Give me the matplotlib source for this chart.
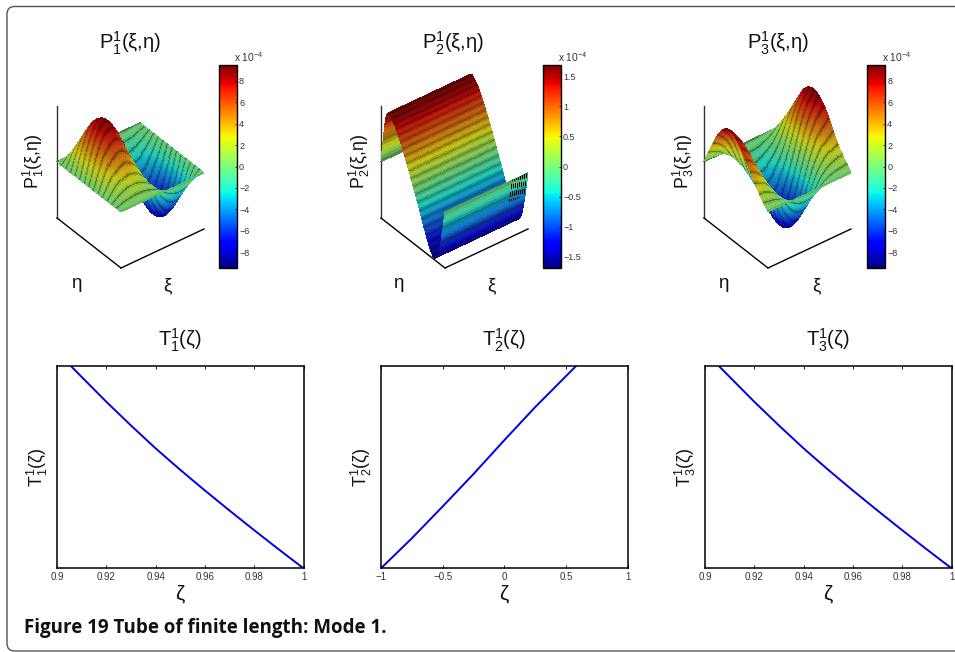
import numpy as np
import matplotlib
matplotlib.use("Agg")
import matplotlib.pyplot as plt
from matplotlib import cm
from matplotlib.colors import Normalize
from matplotlib.patches import FancyBboxPatch
from mpl_toolkits.mplot3d import proj3d

W, H = 955, 652

plt.rcParams["font.family"] = ["Liberation Sans", "DejaVu Sans"]
plt.rcParams["mathtext.fontset"] = "custom"
plt.rcParams["mathtext.rm"] = "Liberation Sans"
plt.rcParams["mathtext.it"] = "Liberation Sans:italic"
plt.rcParams["mathtext.bf"] = "Liberation Sans:bold"

# surface heights in units of 1e-4, rows run from the back edge to the front edge
p1_table = [
    [0, 0, 0, 0, 0, 0, 0, 0, 0],
    [0, 3.0, 4.2, 3.0, 0, -1.2, -1.7, -1.2, 0],
    [0, 5.9, 8.2, 5.9, 0, -2.8, -3.9, -2.8, 0],
    [0, 7.1, 9.9, 7.1, 0, -4.8, -6.8, -4.8, 0],
    [0, 6.6, 9.2, 6.6, 0, -6.6, -9.2, -6.6, 0],
    [0, 4.8, 6.8, 4.8, 0, -7.1, -9.9, -7.1, 0],
    [0, 2.8, 3.9, 2.8, 0, -5.9, -8.2, -5.9, 0],
    [0, 1.2, 1.7, 1.2, 0, -3.0, -4.2, -3.0, 0],
    [0, 0, 0, 0, 0, 0, 0, 0, 0],
]
p2_table = [
    [0.0, 0.0],
    [1.72, 1.72],
    [1.58, 1.58],
    [1.32, 1.32],
    [0.93, 0.93],
    [0.51, 0.51],
    [0.05, 0.05],
    [-0.42, -0.42],
    [-0.93, -0.93],
    [-1.39, -1.39],
    [-1.72, -1.72],
    [-1.35, -1.35],
    [0.0, 0.0],
]
p3_table = [
    [0, 0, 0, 0, 0, 0, 0, 0, 0],
    [3.9, 3.0, 0, -1.2, -1.7, -1.2, 0, 3.0, 4.2],
    [7.4, 5.7, 0, -2.8, -3.9, -2.8, 0, 5.7, 8.0],
    [9.0, 6.9, 0, -4.8, -6.8, -4.8, 0, 6.9, 9.4],
    [8.4, 6.4, 0, -6.6, -9.2, -6.6, 0, 6.4, 9.0],
    [6.4, 4.8, 0, -7.2, -10.2, -7.2, 0, 4.8, 7.2],
    [3.9, 2.8, 0, -5.9, -8.4, -5.9, 0, 2.8, 3.9],
    [1.7, 1.2, 0, -3.0, -4.2, -3.0, 0, 1.2, 1.7],
    [0, 0, 0, 0, 0, 0, 0, 0, 0],
]
p_limits = [9.45, 1.69, 9.45]
cbar_ticks = [
    [-8, -6, -4, -2, 0, 2, 4, 6, 8],
    [-1.5, -1, -0.5, 0, 0.5, 1, 1.5],
    [-8, -6, -4, -2, 0, 2, 4, 6, 8],
]
cbar_labels = [
    ["\u22128", "\u22126", "\u22124", "\u22122", "0", "2", "4", "6", "8"],
    ["\u22121.5", "\u22121", "\u22120.5", "0", "0.5", "1", "1.5"],
    ["\u22128", "\u22126", "\u22124", "\u22122", "0", "2", "4", "6", "8"],
]
mesh_lines = [14, 30, 14]
line_shades = [
    [0.62, 0.9, 1.0, 1.0, 1.0, 0.9],
    [0.68, 0.82, 0.95, 1.0, 0.95, 0.82],
    [0.62, 0.9, 1.0, 1.0, 1.0, 0.9],
]

t1_zeta = [0.9055, 0.92, 0.93, 0.94, 0.95, 0.96, 0.97, 0.98, 0.99, 1.0]
t1_vals = [1.0, 0.822, 0.705, 0.592, 0.486, 0.384, 0.285, 0.188, 0.093, 0.0]
t2_zeta = [-1.0, -0.75, -0.5, -0.25, 0.0, 0.25, 0.5, 0.585]
t2_vals = [0.0, 0.148, 0.305, 0.465, 0.632, 0.795, 0.948, 1.0]
t3_zeta = [0.9055, 0.92, 0.93, 0.94, 0.95, 0.96, 0.97, 0.98, 0.99, 1.0]
t3_vals = [1.0, 0.822, 0.705, 0.592, 0.486, 0.384, 0.285, 0.188, 0.093, 0.0]
t_xlims = [(0.9, 1.0), (-1, 1), (0.9, 1.0)]
t_ticks = [
    [0.9, 0.92, 0.94, 0.96, 0.98, 1],
    [-1, -0.5, 0, 0.5, 1],
    [0.9, 0.92, 0.94, 0.96, 0.98, 1],
]
t_ticklabels = [
    ["0.9", "0.92", "0.94", "0.96", "0.98", "1"],
    ["\u22121", "\u22120.5", "0", "0.5", "1"],
    ["0.9", "0.92", "0.94", "0.96", "0.98", "1"],
]

# pixel layout
corner_x = [121, 445, 768]
corner_y = 268
cbar_left = [218.5, 542.5, 866.7]
title_x = [130, 453, 778]
ylabel_x = [33, 359, 683]
eta_x = [77, 399, 724]
xi_x = [168, 492, 817]
low_left = [57, 381, 705]
low_w = 246.5


def fx(x):
    return x / W


def fy(y):
    return 1 - y / H


def upsample(table, nrows, ncols):
    table = np.array(table, dtype=float)
    t_old = np.linspace(0, 1, table.shape[0])
    x_old = np.linspace(0, 1, table.shape[1])
    t_new = np.linspace(0, 1, nrows)
    x_new = np.linspace(0, 1, ncols)
    z = np.array([np.interp(x_new, x_old, row) for row in table])
    z = np.array([np.interp(t_new, t_old, z[:, j]) for j in range(ncols)]).T
    if table.shape[1] == 2:
        rt, rx = nrows // 36, 1
    else:
        rt, rx = nrows // 20, ncols // 20
    kt = np.ones(2 * rt + 1) / (2 * rt + 1)
    kx = np.ones(2 * rx + 1) / (2 * rx + 1)
    for _ in range(2):
        p = np.pad(z, ((rt, rt), (rx, rx)), mode="reflect", reflect_type="odd")
        p = np.apply_along_axis(lambda v: np.convolve(v, kt, mode="valid"), 0, p)
        z = np.apply_along_axis(lambda v: np.convolve(v, kx, mode="valid"), 1, p)
    return z


def corner_px(ax, x, y, z):
    px, py, _ = proj3d.proj_transform(x, y, z, ax.get_proj())
    return ax.transData.transform((px, py))


def add_surface(fig, idx, table):
    lim = p_limits[idx]
    size = 340
    x0 = corner_x[idx] - size / 2
    y0 = 170 - size / 2
    ax = fig.add_axes([fx(x0), fy(y0 + size), size / W, size / H], projection="3d", proj_type="ortho")
    ax.patch.set_alpha(0)
    ax.set_axis_off()
    ax.set_xlim(0, 1)
    ax.set_ylim(0, 1)
    ax.set_zlim(-lim, lim)
    ax.view_init(elev=37.3, azim=-127.8)
    ax.computed_zorder = False
    ax.set_box_aspect((105, 104.5, 141), zoom=1.0)
    ax.apply_aspect()
    # fit the box to the pixels of the reference
    a = corner_px(ax, 0, 0, -lim)
    b = corner_px(ax, 1, 0, -lim)
    zoom = 83 / (b[0] - a[0])
    ax.set_box_aspect((105, 104.5, 141), zoom=zoom)
    a = corner_px(ax, 0, 0, -lim)
    dx = corner_x[idx] - a[0]
    dy = (H - corner_y) - a[1]
    pos = ax.get_position()
    ax.set_position([pos.x0 + dx / W, pos.y0 + dy / H, pos.width, pos.height])

    shade = line_shades[idx]
    step = len(shade)
    nrows = mesh_lines[idx] * step + 1
    ncols = 121
    z = upsample(table, nrows, ncols)
    t = np.linspace(0, 1, nrows)
    xi = np.linspace(0, 1, ncols)
    X, Y = np.meshgrid(xi, 1 - t)
    colors = cm.jet(Normalize(-lim, lim)(z))
    # muted look of the reference, plus soft dark mesh lines
    grey = colors[:, :, :3].mean(axis=2, keepdims=True)
    colors[:, :, :3] = 0.84 * (0.85 * colors[:, :, :3] + 0.15 * grey)
    for r in range(nrows):
        colors[r, :, :3] *= shade[r % step]
    if idx == 1:
        for j in range(ncols):
            if xi[j] > 0.78 and j % 3 == 0:
                colors[t > 0.955, j, :3] = 0
    ax.plot([0, 0], [1, 1], [-lim, lim], color="#333333", lw=1, zorder=1)
    ax.plot([0, 0], [1, 0], [-lim, -lim], color="black", lw=1, zorder=1)
    ax.plot([0, 1], [0, 0], [-lim, -lim], color="black", lw=1, zorder=1)
    ax.plot_surface(X, Y, z, facecolors=colors, rstride=1, cstride=1, shade=False,
                    linewidth=0, antialiased=False, zorder=2)

    cax = fig.add_axes([fx(cbar_left[idx]), fy(268), 18.5 / W, 203 / H])
    sm = cm.ScalarMappable(norm=Normalize(-lim, lim), cmap="jet")
    cb = fig.colorbar(sm, cax=cax)
    cb.set_ticks(cbar_ticks[idx])
    cb.set_ticklabels(cbar_labels[idx])
    cb.ax.tick_params(direction="in", length=1.5, width=0.5, pad=1.5, labelsize=6.5, labelcolor="#333333")
    cb.outline.set_linewidth(1)
    fig.text(fx(cbar_left[idx] + 30.5), fy(57.5), "x 10$^{-4}$", ha="center", va="center",
             fontsize=7.4, color="#333333")

    n = idx + 1
    label = r"$\mathrm{P}_{%d}^{1}(\mathrm{\xi}{,}\mathrm{\eta})$" % n
    fig.text(fx(title_x[idx]), fy(43), label, ha="center", va="center", fontsize=14.6, color="#111111")
    fig.text(fx(ylabel_x[idx]), fy(162), label, ha="center", va="center", fontsize=12.8, rotation=90, color="#111111")
    fig.text(fx(eta_x[idx]), fy(285), r"$\mathrm{\eta}$", ha="center", va="center", fontsize=13.5, color="#111111")
    fig.text(fx(xi_x[idx]), fy(287), r"$\mathrm{\xi}$", ha="center", va="center", fontsize=13.5, color="#111111")


fig = plt.figure(figsize=(W / 100, H / 100), dpi=100)

frame = FancyBboxPatch((fx(7), fy(651)), fx(1000), fy(6.5) - fy(651),
                       boxstyle="round,pad=0,rounding_size=0.008", transform=fig.transFigure,
                       fc="white", ec="#555555", lw=1, mutation_aspect=W / H, zorder=-1)
fig.add_artist(frame)

for i, tb in enumerate([p1_table, p2_table, p3_table]):
    add_surface(fig, i, tb)

zetas = [t1_zeta, t2_zeta, t3_zeta]
vals = [t1_vals, t2_vals, t3_vals]
for i in range(3):
    ax = fig.add_axes([fx(low_left[i]), fy(568.3), low_w / W, 202.6 / H])
    ax.plot(zetas[i], vals[i], color="#0000e6", lw=1.4)
    ax.set_xlim(*t_xlims[i])
    ax.set_ylim(0, 1)
    ax.set_yticks([])
    ax.set_xticks(t_ticks[i])
    ax.set_xticklabels(t_ticklabels[i])
    ax.tick_params(axis="x", direction="in", top=True, length=2, width=0.6, pad=2.5,
                   labelsize=7, labelcolor="#333333")
    for s in ax.spines.values():
        s.set_linewidth(1.1)
    lab = r"$\mathrm{T}_{%d}^{1}(\mathrm{\zeta})$" % (i + 1)
    ax.set_title(lab, fontsize=14.5, pad=14, color="#111111")
    ax.set_xlabel(r"$\mathrm{\zeta}$", fontsize=15, labelpad=1, color="#111111")
    ax.set_ylabel(lab, fontsize=12.8, color="#111111")
    ax.yaxis.set_label_coords(-7 / low_w, 0.5)

fig.text(fx(24), fy(628), "Figure 19 Tube of finite length: Mode 1.", family="Open Sans", fontweight="bold",
         fontsize=13.5, color="#111111", ha="left", va="center")

fig.savefig("out.png", dpi=100)
